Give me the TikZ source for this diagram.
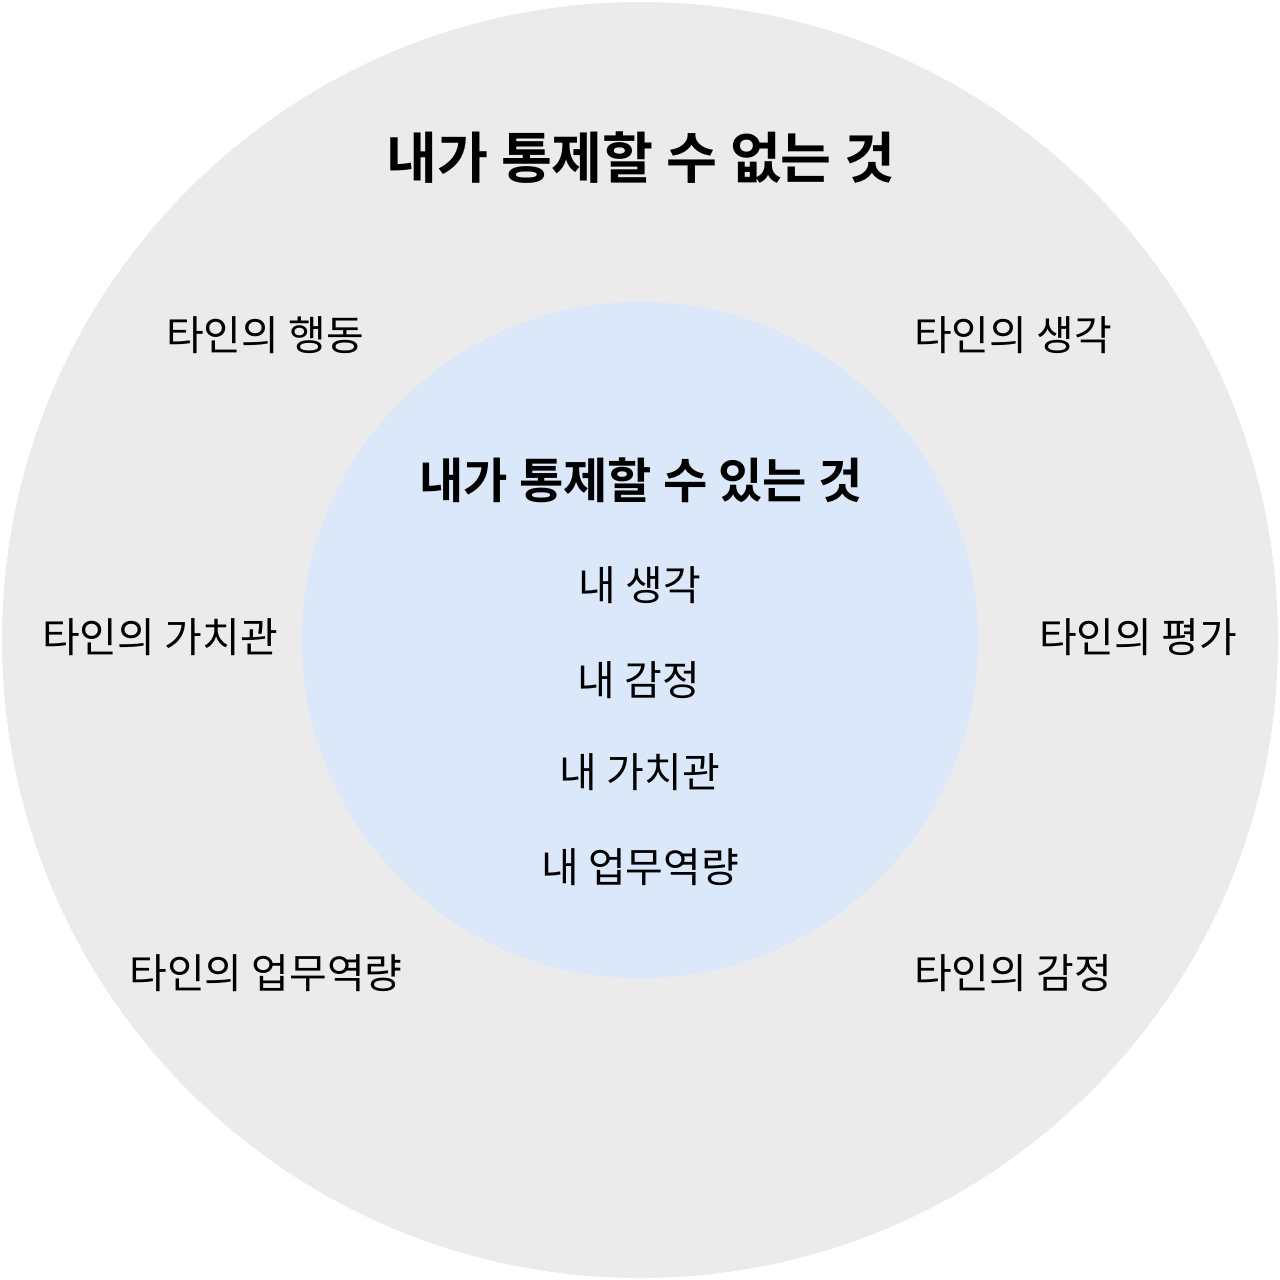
\documentclass[tikz,border=0pt]{standalone}
\usepackage{fontspec}
\newfontfamily\kr{Noto Sans CJK KR}
\newfontfamily\krb{Noto Sans CJK KR Bold}
\definecolor{outergray}{HTML}{EBEBEB}
\definecolor{innerblue}{HTML}{DAE8FA}
\begin{document}
\begin{tikzpicture}[x=0.5pt,y=-0.5pt,
  titletext/.style={font=\krb\fontsize{27.7pt}{32pt}\selectfont, text=black, inner sep=0pt},
  subtitletext/.style={font=\krb\fontsize{24.1pt}{28pt}\selectfont, text=black, inner sep=0pt},
  labeltext/.style={font=\kr\fontsize{20.5pt}{24pt}\selectfont, text=black, inner sep=0pt}]
\useasboundingbox (0,0) rectangle (1280,1280);
\fill[outergray] (640,640) circle[radius=638];
\fill[innerblue] (640,640) circle[radius=338];
\node[titletext] (t1) at (641,158) {내가 통제할 수 없는 것};
\node[labeltext] (o1) at (265,335) {타인의 행동};
\node[labeltext] (o2) at (1013,335) {타인의 생각};
\node[labeltext] (o3) at (160,637) {타인의 가치관};
\node[labeltext] (o4) at (1138,637) {타인의 평가};
\node[labeltext] (o5) at (266,973) {타인의 업무역량};
\node[labeltext] (o6) at (1013,973) {타인의 감정};
\node[subtitletext] (t2) at (641,480) {내가 통제할 수 있는 것};
\node[labeltext] (i1) at (640,585) {내 생각};
\node[labeltext] (i2) at (639,680) {내 감정};
\node[labeltext] (i3) at (640,772) {내 가치관};
\node[labeltext] (i4) at (640,867) {내 업무역량};
\end{tikzpicture}
\end{document}
